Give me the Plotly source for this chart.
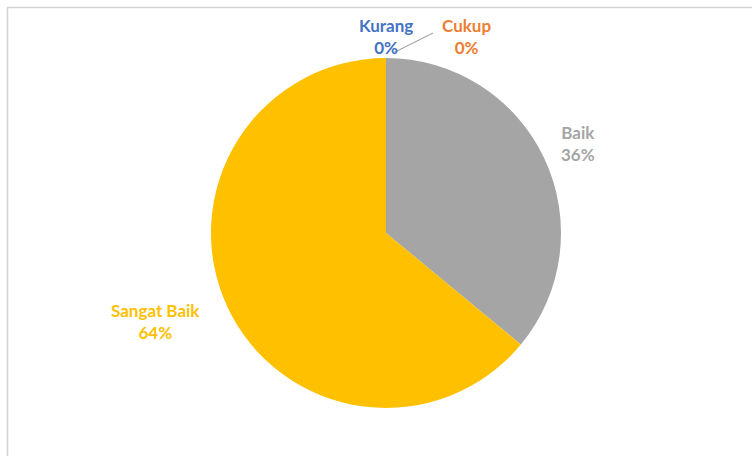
import plotly.graph_objects as go

# Kategori penilaian dan persentasenya
categories = ["Kurang", "Cukup", "Baik", "Sangat Baik"]
percent_values = [0, 0, 36, 64]
slice_colors = ["#4472C4", "#ED7D31", "#A5A5A5", "#FFC000"]

# Label placement (pixel centres of each two-line label)
label_pos_px = [(386, 36), (466, 36), (578, 143), (155, 321)]

W, H = 752, 456


def px_to_paper(x, y):
    return x / W, 1 - y / H


cx, cy, r = 386, 233, 175
dom_x = [(cx - r) / W, (cx + r) / W]
dom_y = [1 - (cy + r) / H, 1 - (cy - r) / H]

fig = go.Figure(
    go.Pie(
        labels=categories,
        values=percent_values,
        marker=dict(colors=slice_colors, line=dict(width=0)),
        sort=False,
        direction="clockwise",
        rotation=0,
        textinfo="none",
        hoverinfo="label+percent",
        showlegend=False,
        domain=dict(x=dom_x, y=dom_y),
    )
)

total = sum(percent_values)
for name, val, col, (lx, ly) in zip(categories, percent_values, slice_colors, label_pos_px):
    px, py = px_to_paper(lx, ly)
    pct = round(100 * val / total)
    fig.add_annotation(
        x=px, y=py, xref="paper", yref="paper",
        text=f"<b>{name}</b><br><b>{pct}%</b>",
        showarrow=False,
        xanchor="center", yanchor="middle",
        font=dict(family="Lato, 'Open Sans', sans-serif", size=17, color=col),
    )

# Leader line for the "Cukup" label
x0, y0 = px_to_paper(393, 53)
x1, y1 = px_to_paper(433, 33)
fig.add_shape(type="line", xref="paper", yref="paper", x0=x0, y0=y0, x1=x1, y1=y1,
              line=dict(color="#A6A6A6", width=1.2))

# Chart area border
bx0, by0 = px_to_paper(7.5, 7.5)
fig.add_shape(type="rect", xref="paper", yref="paper", x0=bx0, y0=-0.05, x1=1.05, y1=by0,
              line=dict(color="#D4D4D4", width=1.5), layer="below")

fig.update_layout(
    width=W, height=H,
    margin=dict(l=0, r=0, t=0, b=0),
    paper_bgcolor="white",
    plot_bgcolor="white",
)

fig.write_html("out.html")
